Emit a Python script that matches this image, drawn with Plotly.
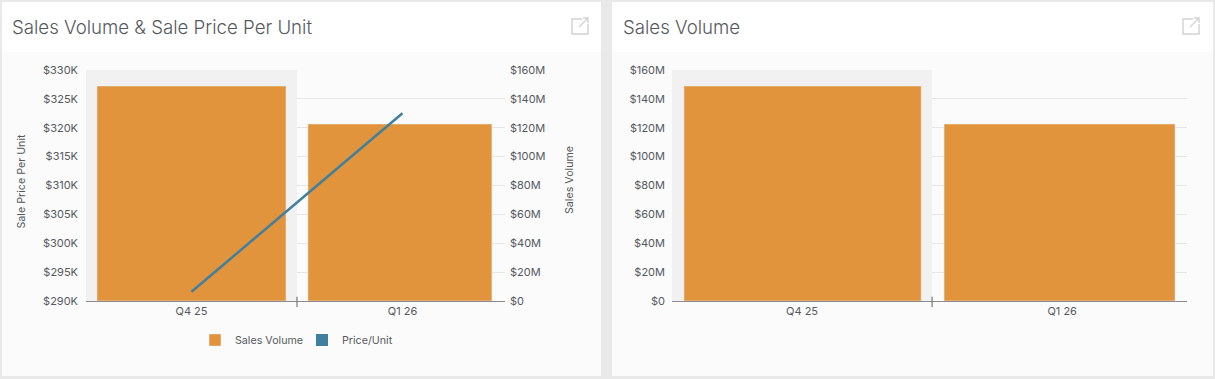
import plotly.graph_objects as go

W, H = 1215, 379

quarters = ["Q4 25", "Q1 26"]
sales_volume = [148.9e6, 122.6e6]
price_per_unit = [291.6e3, 322.5e3]

volume_ticks = [0, 20e6, 40e6, 60e6, 80e6, 100e6, 120e6, 140e6, 160e6]
volume_labels = ["$0", "$20M", "$40M", "$60M", "$80M", "$100M", "$120M", "$140M", "$160M"]
price_ticks = [290e3, 295e3, 300e3, 305e3, 310e3, 315e3, 320e3, 325e3, 330e3]
price_labels = ["$290K", "$295K", "$300K", "$305K", "$310K", "$315K", "$320K", "$325K", "$330K"]

ORANGE = "#e2943c"
BLUE = "#3f7f9f"
TEXT = "#555a5e"
FONT = "Inter, Roboto, sans-serif"

def px(v):
    return v / W

def py(v):
    return 1 - v / H

fig = go.Figure()

fig.add_trace(go.Bar(x=quarters, y=sales_volume, name="Sales Volume", marker_color=ORANGE,
                     xaxis="x", yaxis="y", width=[0.896, 0.872], offset=[-0.448, -0.448], hoverinfo="y"))
fig.add_trace(go.Scatter(x=quarters, y=price_per_unit, name="Price/Unit", mode="lines",
                         line=dict(color=BLUE, width=2.5), xaxis="x", yaxis="y2", showlegend=False))
fig.add_trace(go.Scatter(x=[None], y=[None], name="Price/Unit", mode="markers",
                         marker=dict(symbol="square", size=12, color=BLUE), xaxis="x", yaxis="y2"))
fig.add_trace(go.Bar(x=quarters, y=sales_volume, name="Sales Volume", marker_color=ORANGE,
                     xaxis="x2", yaxis="y3", width=[0.912, 0.888], offset=[-0.454, -0.454], showlegend=False))

tick_font = dict(family=FONT, size=11, color=TEXT)
xbase = dict(type="category", showgrid=False, showline=True, linecolor="#8c8c8c",
             linewidth=1, ticks="", tickfont=tick_font, fixedrange=True)
ybase = dict(showgrid=True, gridcolor="#e6e6e6", gridwidth=1, zeroline=False, showline=False,
             ticks="", tickfont=tick_font, fixedrange=True)
y_dom = [py(301), py(70)]

fig.update_layout(
    width=W, height=H, margin=dict(l=0, r=0, t=0, b=0, pad=0, autoexpand=False), autosize=False,
    paper_bgcolor="#e9e9e9", plot_bgcolor="rgba(0,0,0,0)", showlegend=True, barmode="overlay",
    font=dict(family=FONT, color=TEXT),
    xaxis=dict(xbase, domain=[px(86), px(505)], range=[-0.5, 1.486], anchor="y"),
    xaxis2=dict(xbase, domain=[px(672), px(1187)], range=[-0.5, 1.48], anchor="y3"),
    yaxis=dict(ybase, domain=y_dom, range=[0, 160e6], side="right", anchor="x",
               tickvals=volume_ticks, ticktext=volume_labels, ticklabelstandoff=4),
    yaxis2=dict(ybase, showgrid=False, domain=y_dom, range=[290e3, 330e3], side="left", overlaying="y", anchor="x",
                tickvals=price_ticks, ticktext=price_labels, ticklabelstandoff=7),
    yaxis3=dict(ybase, domain=y_dom, range=[0, 160e6], side="left", anchor="x2",
                tickvals=volume_ticks, ticktext=volume_labels, ticklabelstandoff=6),
    legend=dict(orientation="h", x=px(195), xanchor="left", y=py(340), yanchor="middle",
                entrywidth=62, entrywidthmode="pixels",
                font=dict(family=FONT, size=10.7, color=TEXT), bgcolor="rgba(0,0,0,0)", itemclick=False),
)

shapes = []
for x0, x1 in [(2, 601), (612, 1213)]:
    shapes.append(dict(type="rect", xref="paper", yref="paper", x0=px(x0), x1=px(x1), y0=py(376), y1=py(2),
                       fillcolor="#ffffff", line_width=0, layer="below"))
    shapes.append(dict(type="rect", xref="paper", yref="paper", x0=px(x0), x1=px(x1), y0=py(376), y1=py(52),
                       fillcolor="#fbfbfb", line_width=0, layer="below"))
for xr, yr in [("x", "y"), ("x2", "y3")]:
    shapes.append(dict(type="rect", xref=xr, yref=yr, x0=-0.5, x1=0.5, y0=volume_ticks[0], y1=volume_ticks[-1],
                       fillcolor="#f1f1f1", line_width=0, layer="between"))
    shapes.append(dict(type="line", xref=xr, yref=f"{yr} domain", x0=0.5, x1=0.5, y0=-0.026, y1=0.018,
                       line=dict(color="#777777", width=1.2), layer="above"))
# external-link icons
for ix in (572, 1183):
    path = (f"M {px(ix+10)} {py(19)} L {px(ix)} {py(19)} L {px(ix)} {py(34)} L {px(ix+16)} {py(34)} L {px(ix+16)} {py(24)} "
            f"M {px(ix+7)} {py(27)} L {px(ix+16)} {py(18)} M {px(ix+11)} {py(18)} L {px(ix+16)} {py(18)} L {px(ix+16)} {py(23)}")
    shapes.append(dict(type="path", xref="paper", yref="paper", path=path, line=dict(color="#d2d2d2", width=1.4), layer="above"))
fig.update_layout(shapes=shapes)

for x, text in [(10, "Sales Volume & Sale Price Per Unit"), (621, "Sales Volume")]:
    fig.add_annotation(text=text, xref="paper", yref="paper", x=px(x), y=py(27), xanchor="left", yanchor="middle",
                       showarrow=False, font=dict(family=FONT, size=18.65, color="#55595c", weight=300))
for x, y, text in [(21, 180.5, "Sale Price Per Unit"), (569, 180, "Sales Volume")]:
    fig.add_annotation(text=text, xref="paper", yref="paper", x=px(x), y=py(y), xanchor="center", yanchor="middle",
                       textangle=-90, showarrow=False, font=dict(family=FONT, size=10.7, color=TEXT))

fig.write_html("out.html", config=dict(displayModeBar=False),
               post_script="document.body.style.margin='0';")
